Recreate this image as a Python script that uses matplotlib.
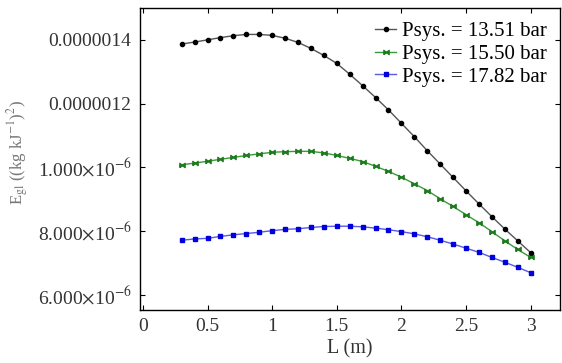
import matplotlib.pyplot as plt
import numpy as np
from matplotlib.path import Path

# L (m)
L = [0.3, 0.4, 0.5, 0.6, 0.7, 0.8, 0.9, 1.0, 1.1, 1.2, 1.3, 1.4, 1.5, 1.6,
     1.7, 1.8, 1.9, 2.0, 2.1, 2.2, 2.3, 2.4, 2.5, 2.6, 2.7, 2.8, 2.9, 3.0]

# E_gl in units of 1e-6
e_1351 = [1.387, 1.393, 1.400, 1.407, 1.413, 1.417, 1.417, 1.414, 1.405, 1.392,
          1.373, 1.351, 1.326, 1.292, 1.256, 1.219, 1.180, 1.138, 1.096, 1.052,
          1.010, 0.968, 0.926, 0.885, 0.845, 0.806, 0.769, 0.732]
e_1550 = [1.008, 1.013, 1.019, 1.025, 1.031, 1.037, 1.042, 1.047, 1.049, 1.050,
          1.050, 1.045, 1.037, 1.028, 1.018, 1.003, 0.987, 0.969, 0.948, 0.927,
          0.901, 0.877, 0.851, 0.826, 0.798, 0.769, 0.742, 0.717]
e_1782 = [0.771, 0.775, 0.777, 0.783, 0.788, 0.792, 0.796, 0.801, 0.805, 0.807,
          0.811, 0.814, 0.815, 0.815, 0.813, 0.809, 0.804, 0.798, 0.791, 0.782,
          0.771, 0.759, 0.746, 0.733, 0.717, 0.702, 0.686, 0.669]

labels = ["Psys. = 13.51 bar", "Psys. = 15.50 bar", "Psys. = 17.82 bar"]

yticks = [0.6, 0.8, 1.0, 1.2, 1.4]
ytick_labels = [r"6.000$\times$10$^{-6}$", r"8.000$\times$10$^{-6}$",
                r"1.000$\times$10$^{-6}$", "0.0000012", "0.0000014"]
xticks = [0, 0.5, 1, 1.5, 2, 2.5, 3]
xtick_labels = ["0", "0.5", "1", "1.5", "2", "2.5", "3"]

plt.rcParams["font.family"] = ["Liberation Serif", "DejaVu Serif"]
plt.rcParams["mathtext.fontset"] = "stix"

bowtie = Path([(-1, -0.8), (-1, 0.8), (1, -0.8), (1, 0.8), (-1, -0.8)])

fig = plt.figure(figsize=(5.62, 3.63), dpi=100)
ax = fig.add_axes([0.249, 0.146, 0.747, 0.832])

ax.plot(L, e_1351, color="#555555", lw=1.0, marker="o", ms=3,
        mfc="black", mec="black", label=labels[0])
ax.plot(L, e_1550, color="#3a9a3a", lw=1.0, marker=bowtie, ms=3.8,
        mfc="#1e7a1e", mec="#1e7a1e", label=labels[1])
ax.plot(L, e_1782, color="#5a5ae6", lw=1.0, marker="s", ms=3.3,
        mfc="#0000dd", mec="#0000dd", label=labels[2])

ax.set_xlim(-0.023, 3.225)
ax.set_ylim(0.552, 1.5)
ax.set_xticks(xticks)
ax.set_xticklabels(xtick_labels)
ax.set_yticks(yticks)
ax.set_yticklabels(ytick_labels)
ax.tick_params(direction="in", top=True, right=True, length=3.5,
               labelsize=14, labelcolor="#333333", pad=6)
for s in ax.spines.values():
    s.set_linewidth(1.0)

ax.set_xlabel("L (m)", fontsize=14.5, color="#333333", labelpad=3)
fig.text(18 / 562, 1 - 152 / 363, r"E$_{\rm gl}$ ((kg kJ$^{-1}$)$^{2}$)",
         fontsize=12, color="#777777", rotation=90, ha="center", va="center")

ax.legend(loc="upper right", frameon=False, fontsize=15, handlelength=1.0,
          handletextpad=0.3, labelspacing=0.15, borderaxespad=0.2,
          borderpad=0.1, bbox_to_anchor=(0.985, 0.975))

plt.savefig("out.png", dpi=100)
